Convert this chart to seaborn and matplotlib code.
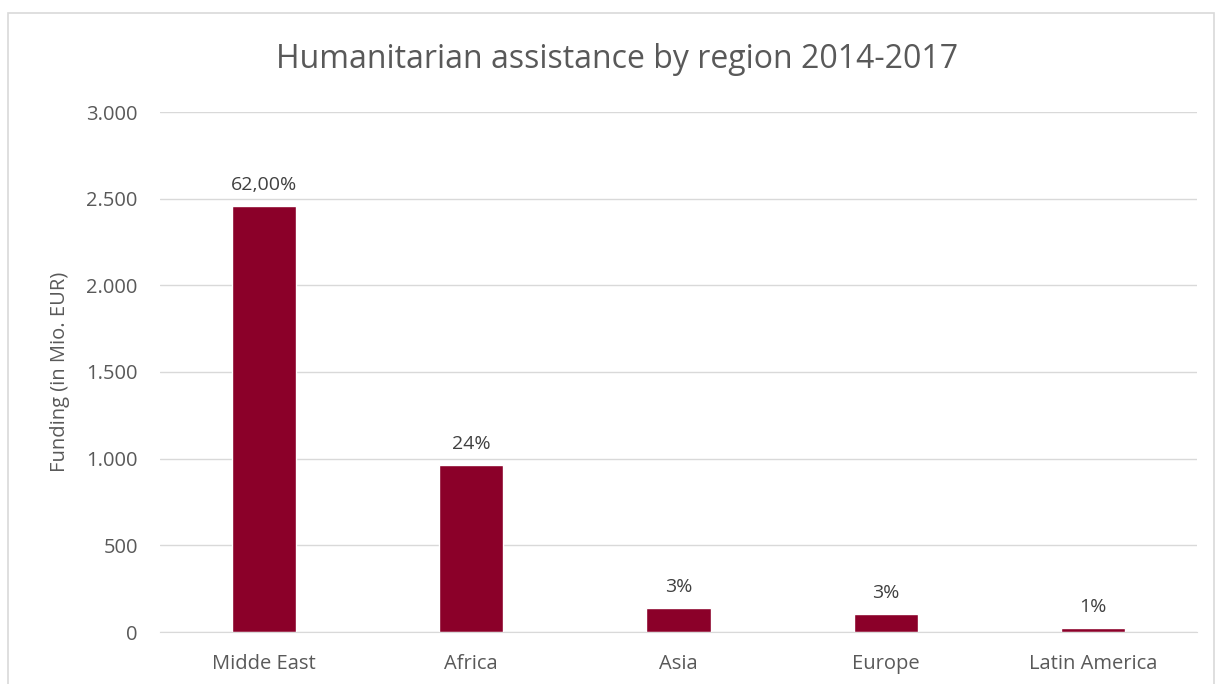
import matplotlib
matplotlib.use("Agg")
import matplotlib.pyplot as plt
import seaborn as sns
import pandas as pd
from matplotlib.patches import Rectangle

regions = ["Midde East", "Africa", "Asia", "Europe", "Latin America"]
funding = [2458, 963, 137, 104, 21]
shares = ["62,00%", "24%", "3%", "3%", "1%"]

df = pd.DataFrame({"Region": regions, "Funding": funding})

sns.set_style("white")
plt.rcParams["font.family"] = ["Open Sans", "DejaVu Sans"]
text_col = "#595959"

fig = plt.figure(figsize=(12.22, 6.84), dpi=100)
ax = fig.add_axes([160 / 1222, 1 - 632 / 684, 1037 / 1222, 520 / 684])

sns.barplot(x="Region", y="Funding", data=df, color="#8B0029", width=0.31, ax=ax, saturation=1)

# percentage labels above the bars
for bar, lab in zip(ax.patches, shares):
    ax.text(bar.get_x() + bar.get_width() / 2, bar.get_height() + 70, lab,
            ha="center", va="bottom", fontsize=14, color="#404040")

ax.set_ylim(0, 3000)
ax.set_yticks(range(0, 3001, 500))
ax.set_yticklabels(["0", "500", "1.000", "1.500", "2.000", "2.500", "3.000"])
ax.yaxis.grid(True, color="#d9d9d9", linewidth=1)
ax.set_axisbelow(True)
for s in ["top", "right", "left"]:
    ax.spines[s].set_visible(False)
ax.spines["bottom"].set_color("#d9d9d9")
ax.tick_params(axis="both", length=0, labelsize=14.5, colors=text_col)
ax.tick_params(axis="y", pad=16)
ax.tick_params(axis="x", pad=16)
ax.set_xlabel("")
ax.set_ylabel("Funding (in Mio. EUR)", fontsize=14.5, color=text_col, labelpad=12)

fig.text(617 / 1222, 1 - 60 / 684, "Humanitarian assistance by region 2014-2017",
         ha="center", va="center", fontsize=23, color=text_col)

fig.patches.append(Rectangle((8 / 1222, -0.01), 1206 / 1222, 1 - 13 / 684 + 0.01,
                             transform=fig.transFigure, fill=False,
                             edgecolor="#d9d9d9", linewidth=1.2))

fig.savefig("out.png", dpi=100)
